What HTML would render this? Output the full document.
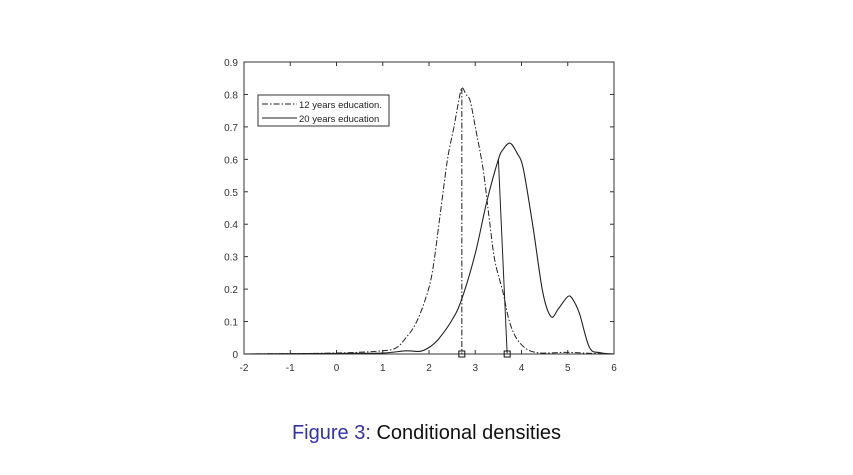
<!DOCTYPE html>
<html><head><meta charset="utf-8"><style>
body{margin:0;background:#fff;width:853px;height:470px;overflow:hidden;font-family:"Liberation Sans",sans-serif}
svg text{font-family:"Liberation Sans",sans-serif}
</style></head><body>
<svg id="chart" width="853" height="470" xmlns="http://www.w3.org/2000/svg"></svg>
<div style="position:absolute;left:0;top:422px;width:853px;text-align:center;font-size:20px;color:#111"><span style="color:#3333aa">Figure 3:</span> Conditional densities</div>
<script>
const xTicks=[-2,-1,0,1,2,3,4,5,6];
const yTicks=[0,0.1,0.2,0.3,0.4,0.5,0.6,0.7,0.8,0.9];
const x12=[-2,0,1,1.3,1.5,1.7,1.9,2.07,2.25,2.4,2.54,2.63,2.71,2.8,2.89,3.0,3.17,3.3,3.42,3.6,3.75,3.96,4.3,5,5.5,6];
const y12=[0,0.003,0.01,0.02,0.05,0.09,0.16,0.25,0.44,0.6,0.70,0.77,0.82,0.80,0.78,0.70,0.57,0.42,0.29,0.19,0.095,0.035,0.005,0.005,0.002,0];
const x20=[-2,0,1,1.5,1.8,2.0,2.2,2.5,2.71,3.0,3.25,3.5,3.6,3.75,3.9,4.04,4.25,4.46,4.64,4.8,5.0,5.1,5.25,5.47,5.7,6];
const y20=[0,0.002,0.003,0.01,0.008,0.02,0.045,0.105,0.17,0.31,0.47,0.60,0.63,0.65,0.62,0.57,0.39,0.19,0.115,0.14,0.177,0.17,0.126,0.02,0.004,0];
const mode12=[2.71,0.82], mode20=[[3.50,0.60],[3.69,0]];
const L=244,R=614,T=62,B=354;
const sx=v=>L+(v+2)/8*(R-L), sy=v=>B-v/0.9*(B-T);
const svg=document.getElementById('chart');const NS='http://www.w3.org/2000/svg';
function mk(tag,attrs,txt){const e=document.createElementNS(NS,tag);for(const k in attrs)e.setAttribute(k,attrs[k]);if(txt!==undefined)e.textContent=txt;svg.appendChild(e);return e;}
let e=mk('rect',{x:L,y:T,width:R-L,height:B-T,fill:'none',stroke:'#333','stroke-width':1});


xTicks.forEach(t=>{const x=sx(t);mk('line',{x1:x,x2:x,y1:B,y2:B-4,stroke:'#333'});mk('line',{x1:x,x2:x,y1:T,y2:T+4,stroke:'#333'});
const tx=mk('text',{x:x,y:B+17,'font-size':10,'text-anchor':'middle',fill:'#333'},t);

});
yTicks.forEach(t=>{const y=sy(t);mk('line',{x1:L,x2:L+4,y1:y,y2:y,stroke:'#333'});mk('line',{x1:R,x2:R-4,y1:y,y2:y,stroke:'#333'});
const tx=mk('text',{x:L-6,y:y+4,'font-size':10,'text-anchor':'end',fill:'#333'},t===0?'0':t.toFixed(1));

});
function path(xs,ys){
  const p=xs.map((v,i)=>[sx(v),sy(ys[i])]);
  let d='M'+p[0][0].toFixed(1)+','+p[0][1].toFixed(1);
  for(let i=0;i<p.length-1;i++){
    const p0=p[i-1]||p[i],p1=p[i],p2=p[i+1],p3=p[i+2]||p2;
    const c1=[p1[0]+(p2[0]-p0[0])/6,p1[1]+(p2[1]-p0[1])/6];
    const c2=[p2[0]-(p3[0]-p1[0])/6,p2[1]-(p3[1]-p1[1])/6];
    c1[1]=Math.min(c1[1],B);c2[1]=Math.min(c2[1],B);
    d+='C'+c1.map(v=>v.toFixed(1)).join(',')+' '+c2.map(v=>v.toFixed(1)).join(',')+' '+p2.map(v=>v.toFixed(1)).join(',');
  }
  return d;
}
e=mk('path',{d:path(x12,y12),fill:'none',stroke:'#222','stroke-width':1,'stroke-dasharray':'6,2,1.5,2'});


e=mk('path',{d:path(x20,y20),fill:'none',stroke:'#222','stroke-width':1.1});


e=mk('line',{x1:sx(mode12[0]),x2:sx(mode12[0]),y1:sy(mode12[1]),y2:sy(0),stroke:'#222','stroke-dasharray':'6,2,1.5,2'});


e=mk('line',{x1:sx(mode20[0][0]),y1:sy(mode20[0][1]),x2:sx(mode20[1][0]),y2:sy(mode20[1][1]),stroke:'#222'});


[mode12[0],mode20[1][0]].forEach(v=>{const m=mk('rect',{x:sx(v)-3,y:B-3,width:6,height:6,fill:'none',stroke:'#111'});

});
e=mk('rect',{x:258,y:95,width:131,height:31,fill:'#fff',stroke:'#333'});


mk('line',{x1:262,x2:297,y1:104,y2:104,stroke:'#222','stroke-dasharray':'6,2,1.5,2'});
mk('line',{x1:262,x2:297,y1:118,y2:118,stroke:'#222'});
e=mk('text',{x:299,y:108,'font-size':9.5,fill:'#222'},'12 years education.');


e=mk('text',{x:299,y:122,'font-size':9.5,fill:'#222'},'20 years education');


</script>
</body></html>
